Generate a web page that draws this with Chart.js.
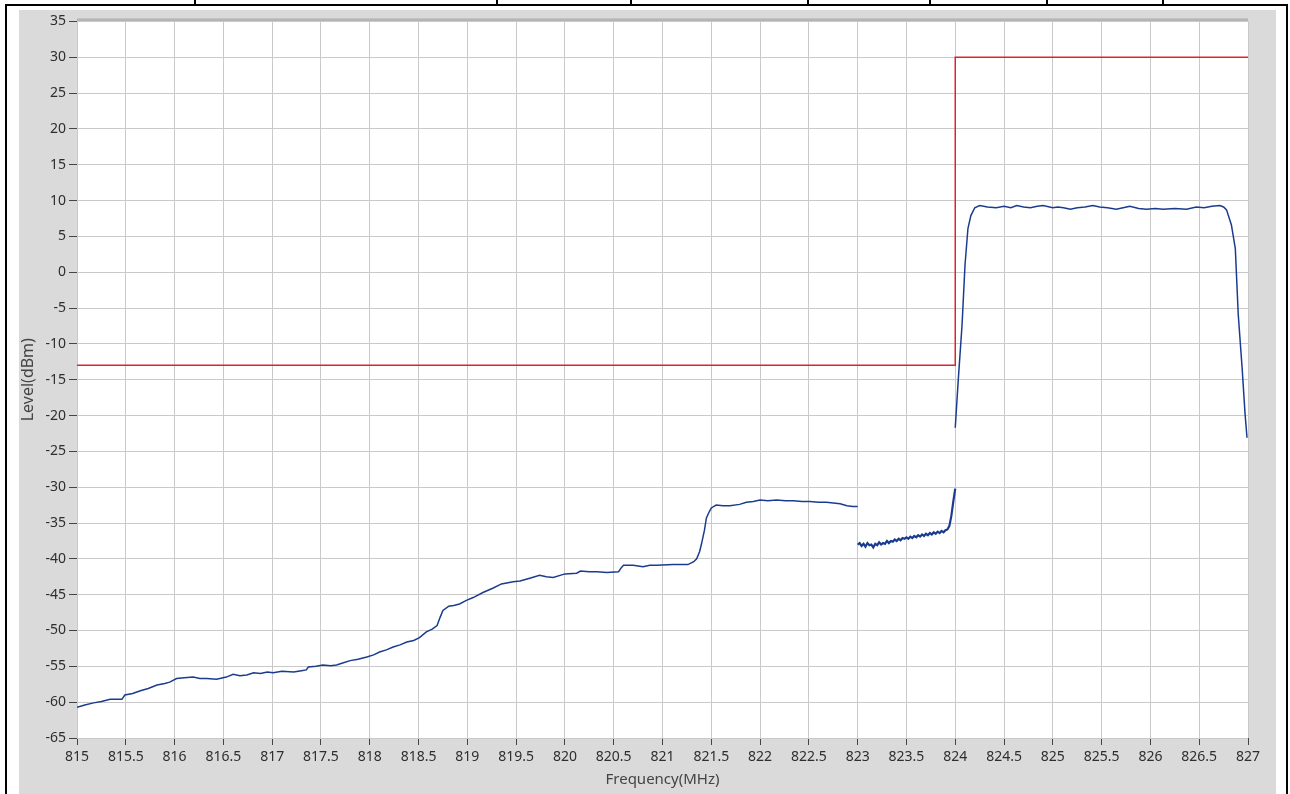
<!DOCTYPE html>
<html>
<head>
<meta charset="utf-8">
<title>Frequency sweep</title>
<script src="https://cdn.jsdelivr.net/npm/chart.js@4"></script>
<style>
  html, body { margin: 0; padding: 0; background: #fff; }
  body { width: 1290px; height: 794px; position: relative; overflow: hidden; }
  .rule { position: absolute; background: #000; }
  #panel { position: absolute; left: 19px; top: 10px; width: 1257px; height: 784px; background: #dadada; }
</style>
</head>
<body>
<div class="rule" style="left:5px; top:4px; width:1283px; height:2px;"></div>
<div class="rule" style="left:5px; top:4px; width:2px; height:790px;"></div>
<div class="rule" style="left:1286px; top:4px; width:2px; height:790px;"></div>
<div class="rule" style="left:194px; top:0; width:2px; height:5px;"></div>
<div class="rule" style="left:496px; top:0; width:2px; height:5px;"></div>
<div class="rule" style="left:630px; top:0; width:2px; height:5px;"></div>
<div class="rule" style="left:807px; top:0; width:2px; height:5px;"></div>
<div class="rule" style="left:929px; top:0; width:2px; height:5px;"></div>
<div class="rule" style="left:1046px; top:0; width:2px; height:5px;"></div>
<div class="rule" style="left:1162px; top:0; width:2px; height:5px;"></div>
<div id="panel"><canvas id="sweepChart"></canvas></div>

<script>
// axis ticks
const xTicks = [815, 815.5, 816, 816.5, 817, 817.5, 818, 818.5, 819, 819.5, 820, 820.5,
  821, 821.5, 822, 822.5, 823, 823.5, 824, 824.5, 825, 825.5, 826, 826.5, 827];
const yTicks = [-65, -60, -55, -50, -45, -40, -35, -30, -25, -20, -15, -10, -5,
  0, 5, 10, 15, 20, 25, 30, 35];

// limit mask
const limitFreq = [815, 824, 824, 827];
const limitLevel = [-13, -13, 30, 30];

// trace 815 - 823 MHz
const freqLow = [815.00, 815.08, 815.17, 815.25, 815.34, 815.46, 815.49, 815.57, 815.65, 815.73,
  815.82, 815.90, 815.95, 816.02, 816.10, 816.19, 816.26, 816.33, 816.43, 816.53,
  816.60, 816.67, 816.74, 816.81, 816.88, 816.95, 817.01, 817.10, 817.22, 817.30,
  817.35, 817.37, 817.45, 817.52, 817.60, 817.66, 817.73, 817.80, 817.88, 817.97,
  818.04, 818.10, 818.17, 818.24, 818.31, 818.38, 818.45, 818.51, 818.58, 818.64,
  818.69, 818.72, 818.75, 818.81, 818.86, 818.92, 818.99, 819.06, 819.16, 819.26,
  819.35, 819.47, 819.54, 819.64, 819.74, 819.81, 819.88, 820.00, 820.12, 820.16,
  820.25, 820.33, 820.43, 820.55, 820.58, 820.60, 820.70, 820.80, 820.87, 820.94,
  821.11, 821.26, 821.32, 821.35, 821.38, 821.40, 821.43, 821.45, 821.48, 821.50,
  821.55, 821.62, 821.69, 821.79, 821.86, 821.93, 822.00, 822.08, 822.17, 822.26,
  822.34, 822.43, 822.51, 822.60, 822.68, 822.75, 822.82, 822.89, 822.95, 823.00];
const levelLow = [-60.7, -60.4, -60.1, -59.9, -59.6, -59.6, -59.0, -58.8, -58.4, -58.1,
  -57.6, -57.4, -57.2, -56.7, -56.6, -56.5, -56.7, -56.7, -56.8, -56.5,
  -56.1, -56.3, -56.2, -55.9, -56.0, -55.8, -55.9, -55.7, -55.8, -55.6,
  -55.5, -55.1, -55.0, -54.8, -54.9, -54.8, -54.5, -54.2, -54.0, -53.7,
  -53.4, -53.0, -52.7, -52.3, -52.0, -51.6, -51.4, -51.0, -50.2, -49.8,
  -49.3, -48.2, -47.2, -46.6, -46.5, -46.3, -45.8, -45.4, -44.7, -44.1,
  -43.5, -43.2, -43.1, -42.7, -42.3, -42.5, -42.6, -42.1, -42.0, -41.7,
  -41.8, -41.8, -41.9, -41.8, -41.2, -40.9, -40.9, -41.1, -40.9, -40.9,
  -40.8, -40.8, -40.4, -40.0, -39.0, -37.9, -36.0, -34.3, -33.4, -32.9,
  -32.5, -32.6, -32.6, -32.4, -32.1, -32.0, -31.8, -31.9, -31.8, -31.9,
  -31.9, -32.0, -32.0, -32.1, -32.1, -32.2, -32.3, -32.6, -32.7, -32.7];

// trace 823 - 824 MHz
const freqMid = [823.00, 823.02, 823.04, 823.06, 823.08, 823.10, 823.12, 823.14, 823.16, 823.18,
  823.20, 823.22, 823.24, 823.26, 823.28, 823.30, 823.32, 823.34, 823.36, 823.38,
  823.40, 823.42, 823.44, 823.46, 823.48, 823.50, 823.52, 823.54, 823.56, 823.58,
  823.60, 823.62, 823.64, 823.66, 823.68, 823.70, 823.72, 823.74, 823.76, 823.78,
  823.80, 823.82, 823.84, 823.86, 823.88, 823.90, 823.92, 823.94, 823.96, 823.98, 824.00];
const levelMid = [-38.0, -37.8, -38.2, -37.9, -38.3, -37.8, -38.1, -38.0, -38.4, -37.9,
  -38.1, -37.7, -38.0, -37.8, -37.9, -37.5, -37.8, -37.5, -37.6, -37.3,
  -37.5, -37.2, -37.4, -37.1, -37.2, -37.0, -37.2, -36.9, -37.1, -36.8,
  -37.0, -36.7, -36.9, -36.6, -36.8, -36.5, -36.7, -36.4, -36.6, -36.3,
  -36.5, -36.2, -36.4, -36.1, -36.3, -36.0, -35.9, -35.4, -34.0, -32.0, -30.2];

// trace 824 - 827 MHz
const freqHigh = [824.00, 824.03, 824.07, 824.10, 824.13, 824.16, 824.20, 824.25, 824.33, 824.42,
  824.50, 824.57, 824.63, 824.70, 824.77, 824.84, 824.90, 825.00, 825.05, 825.11,
  825.18, 825.25, 825.33, 825.41, 825.48, 825.56, 825.65, 825.72, 825.79, 825.88,
  825.96, 826.05, 826.13, 826.25, 826.37, 826.47, 826.55, 826.63, 826.71, 826.75,
  826.78, 826.83, 826.87, 826.90, 826.94, 826.97, 826.99];
const levelHigh = [-21.7, -15.2, -7.3, 1.0, 6.1, 7.9, 9.0, 9.3, 9.1, 9.0,
  9.2, 9.0, 9.3, 9.1, 9.0, 9.2, 9.3, 9.0, 9.1, 9.0,
  8.8, 9.0, 9.1, 9.3, 9.1, 9.0, 8.8, 9.0, 9.2, 8.9,
  8.8, 8.9, 8.8, 8.9, 8.8, 9.1, 9.0, 9.2, 9.3, 9.1,
  8.7, 6.6, 3.3, -5.9, -13.4, -19.8, -23.1];

const traceColor = "#1b3c8e";
const labelFont = { family: "'Noto Sans', sans-serif", size: 14 };
const titleFont = { family: "'Noto Sans', sans-serif", size: 15 };

function toPoints(xs, ys) {
  return xs.map((x, i) => ({ x: x, y: ys[i] }));
}

function traceDataset(xs, ys, width) {
  return {
    data: toPoints(xs, ys),
    borderColor: traceColor,
    borderWidth: width,
    pointRadius: 0,
    tension: 0,
    fill: false
  };
}

// white plot area with a darker frame line along its top
const plotBackground = {
  id: "plotBackground",
  beforeDraw(chart) {
    const { ctx, chartArea } = chart;
    ctx.save();
    ctx.fillStyle = "#ffffff";
    ctx.fillRect(chartArea.left, chartArea.top, chartArea.right - chartArea.left, chartArea.bottom - chartArea.top);
    ctx.fillStyle = "#b5b5b5";
    ctx.fillRect(chartArea.left, chartArea.top - 3, chartArea.right - chartArea.left, 3);
    ctx.restore();
  }
};

new Chart(document.getElementById("sweepChart"), {
  type: "line",
  data: {
    datasets: [
      traceDataset(freqLow, levelLow, 1.5),
      traceDataset(freqMid, levelMid, 2.2),
      traceDataset(freqHigh, levelHigh, 1.5),
      {
        data: toPoints(limitFreq, limitLevel),
        borderColor: "#dc2430",
        borderWidth: 1.5,
        pointRadius: 0,
        tension: 0,
        fill: false
      }
    ]
  },
  options: {
    responsive: true,
    maintainAspectRatio: false,
    animation: false,
    layout: {
      padding: { top: 7, right: 28, left: 0, bottom: 0 }
    },
    plugins: {
      legend: { display: false },
      tooltip: { enabled: false }
    },
    scales: {
      x: {
        type: "linear",
        min: 815,
        max: 827,
        afterBuildTicks: (scale) => {
          scale.ticks = xTicks.map((v) => ({ value: v }));
        },
        afterFit: (scale) => {
          scale.height = 56;
        },
        border: { display: false },
        grid: {
          color: "#c9c9c9",
          tickColor: "#444",
          tickLength: 7
        },
        ticks: {
          color: "#2e2e2e",
          font: labelFont,
          padding: 4,
          maxRotation: 0,
          autoSkip: false,
          callback: (value) => String(value)
        },
        title: {
          display: true,
          text: "Frequency(MHz)",
          color: "#444",
          font: titleFont,
          padding: { top: 0, bottom: 5 }
        }
      },
      y: {
        min: -65,
        max: 35,
        afterBuildTicks: (scale) => {
          scale.ticks = yTicks.map((v) => ({ value: v }));
        },
        afterFit: (scale) => {
          scale.width = 58;
        },
        border: { display: false },
        grid: {
          color: "#c9c9c9",
          tickColor: "#444",
          tickLength: 8
        },
        ticks: {
          color: "#2e2e2e",
          font: labelFont,
          padding: 3,
          autoSkip: false,
          callback: (value) => String(value)
        },
        title: {
          display: true,
          text: "Level(dBm)",
          color: "#444",
          font: { family: "'Noto Sans', sans-serif", size: 16 },
          padding: { top: 0, bottom: 0 }
        }
      }
    }
  },
  plugins: [plotBackground]
});
</script>
</body>
</html>
